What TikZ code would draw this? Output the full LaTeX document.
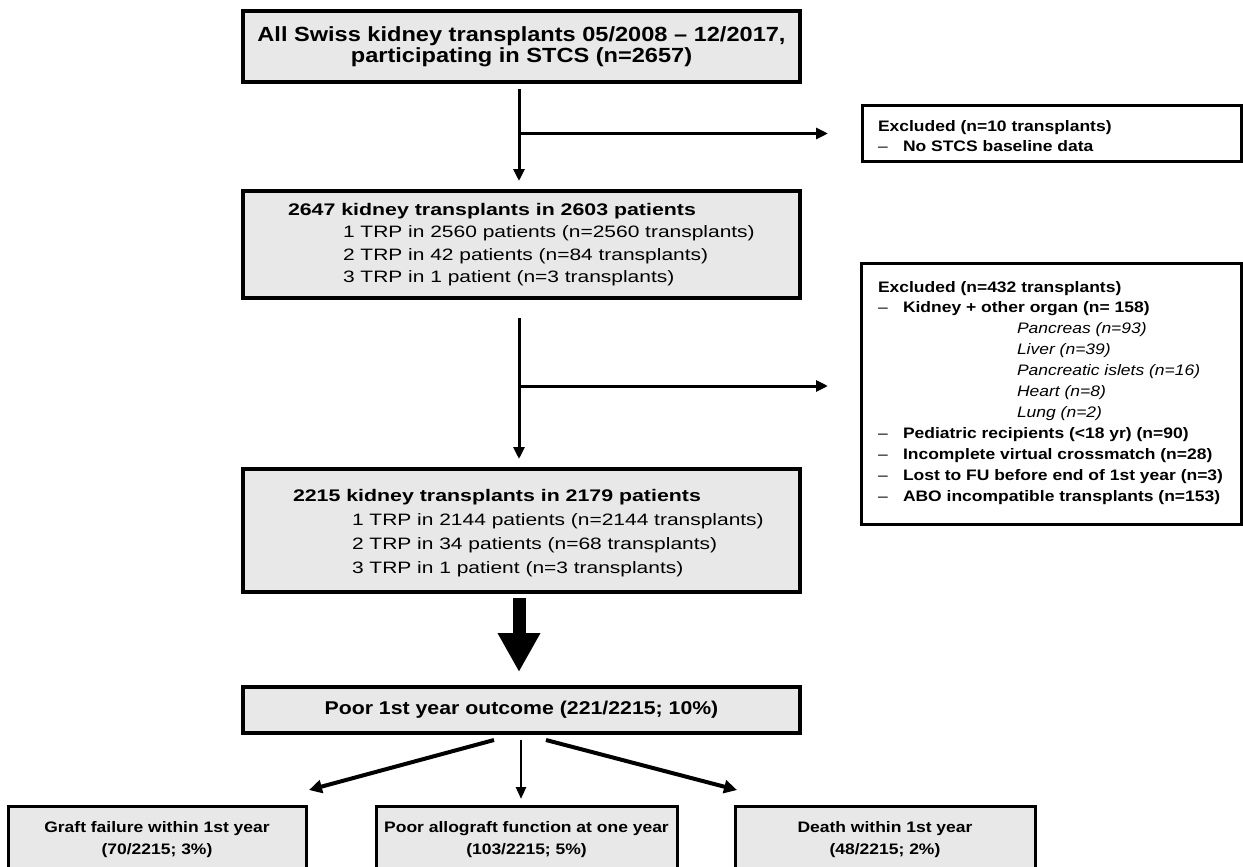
\documentclass[tikz,border=0pt]{standalone}
\usepackage{fontspec}
\setmainfont[FakeStretch=1.15]{Liberation Sans}
\newfontfamily\widefont[FakeStretch=1.27]{Liberation Sans}
\usetikzlibrary{arrows.meta,calc}
\definecolor{boxfill}{RGB}{232,232,232}
\newcommand{\exdash}[1]{\makebox[25pt][l]{–}\textbf{#1}}
\newcommand{\exsub}[1]{\hspace*{139pt}\textit{#1}}
\newcommand{\boldline}[1]{{\fontsize{16.8}{22.5}\selectfont\bfseries #1}}
\begin{document}
\begin{tikzpicture}[x=1pt,y=-1pt,
  gbox/.style={draw=black, fill=boxfill, line width=3.5pt, outer sep=0pt, inner sep=0pt},
  wbox/.style={draw=black, fill=white, line width=3pt, outer sep=0pt, inner sep=0pt},
  txt/.style={inner sep=0pt, outer sep=0pt, text=black},
  flow/.style={draw=black, line width=3pt, -{Triangle[length=12pt,width=11pt]}},
  diag/.style={draw=black, line width=4pt, -{Triangle[length=13pt,width=13pt]}},
  thin/.style={draw=black, line width=2.5pt, -{Triangle[length=12pt,width=10pt]}}]
\useasboundingbox (0,0) rectangle (1243,867);
\clip (0,0) rectangle (1243,867);

% main boxes
\node[gbox, line width=4pt, minimum width=557pt, minimum height=71pt, align=center,
  font=\fontsize{20.5}{21.5}\selectfont\bfseries] (t) at (521.5,46.5)
  {All Swiss kidney transplants 05/2008 – 12/2017,\\participating in STCS (n=2657)};

\node[gbox, minimum width=557pt, minimum height=107pt] (b2) at (521.5,244.5) {};
\node[txt, anchor=west, align=left, font=\widefont\fontsize{16.5}{22.5}\selectfont] (b2t) at ([xshift=45pt]b2.west)
  {\boldline{2647 kidney transplants in 2603 patients}\\
   \hspace*{55pt}1 TRP in 2560 patients (n=2560 transplants)\\
   \hspace*{55pt}2 TRP in 42 patients (n=84 transplants)\\
   \hspace*{55pt}3 TRP in 1 patient (n=3 transplants)};

\node[gbox, minimum width=557pt, minimum height=123pt] (b3) at (521.5,530.5) {};
\node[txt, anchor=west, align=left, font=\widefont\fontsize{16.5}{24}\selectfont] (b3t) at ([xshift=50pt,yshift=-3pt]b3.west)
  {\boldline{2215 kidney transplants in 2179 patients}\\
   \hspace*{59pt}1 TRP in 2144 patients (n=2144 transplants)\\
   \hspace*{59pt}2 TRP in 34 patients (n=68 transplants)\\
   \hspace*{59pt}3 TRP in 1 patient (n=3 transplants)};

% exclusion boxes
\node[wbox, minimum width=379pt, minimum height=56pt] (ex1) at (1051.5,133.5) {};
\node[txt, anchor=north west, align=left, font=\fontsize{15.2}{20}\selectfont] (ex1t) at (878,120)
  {\textbf{Excluded (n=10 transplants)}\\
   \exdash{No STCS baseline data}};

\node[wbox, minimum width=380pt, minimum height=261pt] (ex2) at (1051,393.5) {};
\node[txt, anchor=north west, align=left, font=\fontsize{15.2}{20.9}\selectfont] (ex2t) at (878,281)
  {\textbf{Excluded (n=432 transplants)}\\
   \exdash{Kidney + other organ (n= 158)}\\
   \exsub{Pancreas (n=93)}\\
   \exsub{Liver (n=39)}\\
   \exsub{Pancreatic islets (n=16)}\\
   \exsub{Heart (n=8)}\\
   \exsub{Lung (n=2)}\\
   \exdash{Pediatric recipients (<18 yr) (n=90)}\\
   \exdash{Incomplete virtual crossmatch (n=28)}\\
   \exdash{Lost to FU before end of 1st year (n=3)}\\
   \exdash{ABO incompatible transplants (n=153)}};

% outcome boxes
\node[gbox, minimum width=557pt, minimum height=46pt,
  font=\fontsize{18.5}{20}\selectfont\bfseries] (poor) at (521.5,710)
  {Poor 1st year outcome (221/2215; 10\%)};

\node[gbox, line width=3pt, minimum width=298pt, minimum height=68pt, align=center,
  font=\fontsize{15.2}{22}\selectfont\bfseries] (bl) at (157,840)
  {Graft failure within 1st year\\(70/2215; 3\%)};
\node[gbox, line width=3pt, minimum width=301pt, minimum height=68pt, align=center,
  font=\fontsize{15.2}{22}\selectfont\bfseries] (bm) at (526.5,840)
  {Poor allograft function at one year\\(103/2215; 5\%)};
\node[gbox, line width=3pt, minimum width=300pt, minimum height=68pt, align=center,
  font=\fontsize{15.2}{22}\selectfont\bfseries] (br) at (885,840)
  {Death within 1st year\\(48/2215; 2\%)};

% connectors
\coordinate (j1) at (519,133.5);
\coordinate (j2) at (519,386);
\draw[flow] ([xshift=-2.5pt,yshift=-7pt]t.south) -- ([xshift=-2.5pt,yshift=10pt]b2.north);
\draw[flow] (j1) -- ([xshift=-34pt]ex1.west);
\draw[flow] ([xshift=-2.5pt,yshift=-20pt]b2.south) -- ([xshift=-2.5pt,yshift=10pt]b3.north);
\draw[flow] (j2) -- ([xshift=-33pt]ex2.west |- j2);

\draw[line width=13pt, -{Triangle[length=39pt,width=40pt]}]
  ([xshift=-2.5pt,yshift=-6pt]b3.south) -- ([xshift=-2.5pt,yshift=15pt]poor.north);

\draw[diag] ([xshift=-27.5pt,yshift=-7pt]poor.south) -- ([xshift=3pt,yshift=16pt]bl.north east);
\draw[thin] ([xshift=-0.5pt,yshift=-7pt]poor.south) -- ([xshift=-5.5pt,yshift=7pt]bm.north);
\draw[diag] ([xshift=24.5pt,yshift=-7pt]poor.south) -- ([xshift=2pt,yshift=16pt]br.north west);
\end{tikzpicture}
\end{document}
